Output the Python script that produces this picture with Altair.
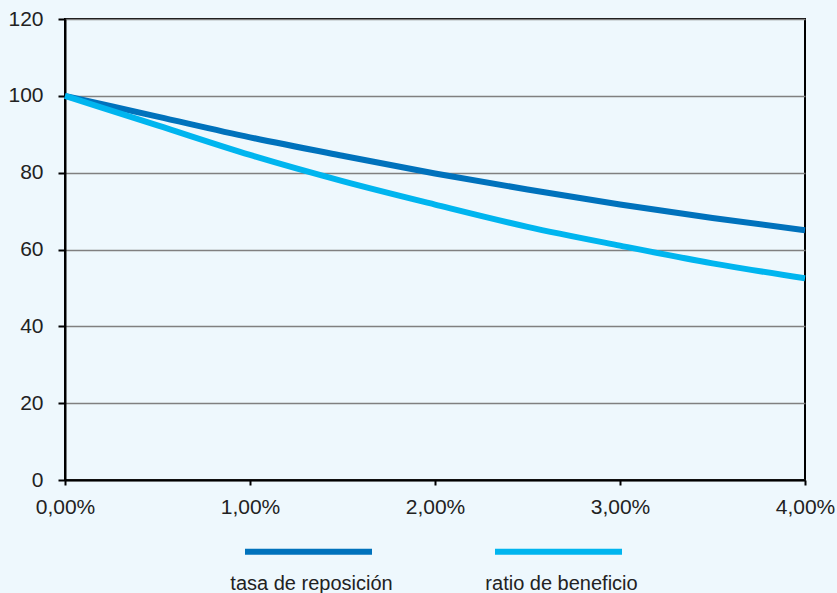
import altair as alt
import pandas as pd

x_vals = [0, 0.5, 1, 1.5, 2, 2.5, 3, 3.5, 4]
tasa = [100, 94.6, 89.2, 84.4, 79.8, 75.6, 71.7, 68.2, 65.0]
ratio = [100, 92.3, 84.6, 77.8, 71.7, 65.9, 61.0, 56.4, 52.5]
series_names = ["tasa de reposición", "ratio de beneficio"]
colors = ["#0072BC", "#00B5EF"]

rows = []
for name, vals in zip(series_names, [tasa, ratio]):
    for xv, yv in zip(x_vals, vals):
        rows.append({"x": xv, "y": yv, "serie": name})
df = pd.DataFrame(rows)

font = "Liberation Sans"

chart = alt.Chart(df).mark_line(strokeWidth=6, interpolate="monotone").encode(
    x=alt.X("x:Q", scale=alt.Scale(domain=[0, 4], nice=False),
            axis=alt.Axis(values=[0, 1, 2, 3, 4], title=None, grid=False,
                          labelExpr="replace(format(datum.value, '.2f'), '.', ',') + '%'",
                          labelFlush=False,
                          domainColor="black", domainWidth=2, tickColor="black",
                          tickWidth=2, tickSize=5, labelPadding=11,
                          labelFontSize=21, labelFont=font, labelColor="#222222")),
    y=alt.Y("y:Q", scale=alt.Scale(domain=[0, 120], nice=False),
            axis=alt.Axis(values=[0, 20, 40, 60, 80, 100, 120], title=None,
                          gridColor="#808080", gridWidth=1.5, gridOpacity=1,
                          domainColor="black", domainWidth=2, tickColor="black",
                          tickWidth=2, tickSize=7, labelPadding=15,
                          labelFontSize=21, labelFont=font, labelColor="#222222")),
    color=alt.Color("serie:N", scale=alt.Scale(domain=series_names, range=colors),
                    sort=series_names,
                    legend=alt.Legend(title=None, orient="none", legendX=177, legendY=466,
                                      direction="horizontal", symbolType="stroke",
                                      symbolSize=16129, symbolStrokeWidth=6,
                                      symbolOpacity=1,
                                      labelAlign="center", labelOffset={"expr": "-63.5"},
                                      labelBaseline="top",
                                      labelExpr="['', datum.label]",
                                      labelFontSize=20, labelFont=font, labelColor="#222222",
                                      labelLimit=400, columnPadding=90, padding=0)),
).properties(
    width=740, height=461,
    background="#EEF8FD",
    padding={"left": 65, "top": 19, "right": 32, "bottom": 113},
    autosize=alt.AutoSizeParams(type="none"),
).configure_view(stroke="black", strokeWidth=2, fill="#EEF8FD")

chart.save("out.html", embed_options={"renderer": "svg", "actions": False})
